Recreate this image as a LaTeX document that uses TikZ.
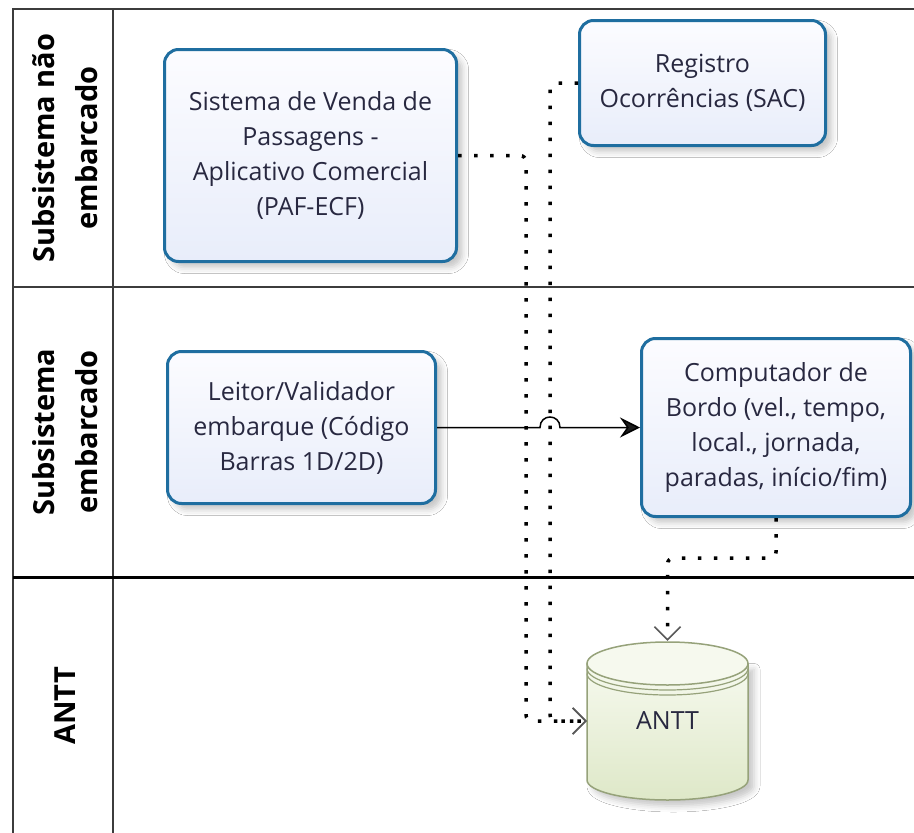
\documentclass[tikz,border=0pt]{standalone}
\usepackage{fontspec}
\setmainfont{Open Sans}
\usetikzlibrary{arrows.meta,shadows.blur,calc}
\definecolor{boxline}{RGB}{31,110,160}
\definecolor{boxtop}{RGB}{252,252,255}
\definecolor{boxbot}{RGB}{232,237,250}
\definecolor{txt}{RGB}{40,40,64}
\definecolor{cylline}{RGB}{150,162,122}
\definecolor{cyltop}{RGB}{246,249,238}
\definecolor{cylbot}{RGB}{222,232,200}
\definecolor{lanecol}{RGB}{60,60,60}
\newcommand\bxfont{\fontsize{25}{35}\selectfont}
\newcommand\hdfont{\fontsize{29}{43}\selectfont\bfseries}
\begin{document}
\begin{tikzpicture}[x=1pt,y=-1pt,
  proc/.style={draw=boxline, line width=3pt, rounded corners=14pt,
    top color=boxtop, bottom color=boxbot, align=center, text=txt,
    font=\bxfont, inner sep=0pt,
    blur shadow={shadow xshift=6pt, shadow yshift=-6pt, shadow blur radius=6pt, shadow opacity=22}},
  flow/.style={line width=3.5pt, dash pattern=on 3.5pt off 12.5pt, rounded corners=6pt,
    -{Straight Barb[length=13pt,width=26pt,line width=1.6pt,color=black!65]}},
  msg/.style={line width=1.5pt, -{Stealth[length=20pt,width=20pt,inset=7pt]}},
  lanehead/.style={rotate=90, align=center, font=\hdfont, text=black},
  lanethin/.style={draw=lanecol, line width=2pt},
  lanethick/.style={draw=black, line width=3pt}
]
\useasboundingbox (0,0) rectangle (914,833);
\fill[white] (0,0) rectangle (914,833);

% lanes
\draw[lanethin] (914,9) -- (13,9) -- (13,833);
\draw[lanethin] (113,9) -- (113,833);
\draw[lanethin] (13,287) -- (914,287);
\draw[lanethick] (13,577) -- (914,577);

\node[lanehead] (h1) at (65,148) {Subsistema não\\embarcado};
\node[lanehead] (h2) at (65,432) {Subsistema\\embarcado};
\node[lanehead] (h3) at (65,706) {ANTT};

% bend coordinates
\coordinate (b1) at (526,0);
\coordinate (b2) at (550,0);

% process boxes
\node[proc, minimum width=292pt, minimum height=212pt] (sist) at (310.5,155.5)
  {Sistema de Venda de\\Passagens -\\Aplicativo Comercial\\(PAF-ECF)};
\node[proc, minimum width=246pt, minimum height=125pt] (reg) at (702.5,83)
  {Registro\\Ocorrências (SAC)};
\node[proc, minimum width=268pt, minimum height=152pt] (leit) at (301.5,427.5)
  {Leitor/Validador\\embarque (Código\\Barras 1D/2D)};
\node[proc, minimum width=269pt, minimum height=178pt] (comp) at (776,427.5)
  {Computador de\\Bordo (vel., tempo,\\local., jornada,\\paradas, início/fim)};

% ANTT data store (cylinder)
\fill[top color=cyltop, bottom color=cylbot,
  blur shadow={shadow xshift=6pt, shadow yshift=-6pt, shadow blur radius=6pt, shadow opacity=22}]
  (587,663.5) -- (587,780) .. controls (587,791) and (623,800) .. (667.5,800)
  .. controls (712,800) and (748,791) .. (748,780) -- (748,663.5) -- cycle;
\draw[cylline, line width=1.5pt]
  (587,663.5) -- (587,780) .. controls (587,791) and (623,800) .. (667.5,800)
  .. controls (712,800) and (748,791) .. (748,780) -- (748,663.5);
\draw[cylline, line width=1.5pt, fill=cyltop] (667.5,663.5) ellipse [x radius=80.5, y radius=21.5];
\draw[cylline, line width=1.2pt] (587,668.5) .. controls (587,680.4) and (623,690) .. (667.5,690)
  .. controls (712,690) and (748,680.4) .. (748,668.5);
\draw[cylline, line width=1.2pt] (587,673.5) .. controls (587,685.4) and (623,695) .. (667.5,695)
  .. controls (712,695) and (748,685.4) .. (748,673.5);
\node[minimum width=161pt, minimum height=160pt, inner sep=0pt, font=\bxfont, text=txt] (antt) at (667.5,721) {\raisebox{-4pt}{ANTT}};

% connectors
\draw[flow] (sist.east) -- (sist.east -| b1) |- (antt.west);
\draw[flow] (reg.west) -- (reg.west -| b2) |- (antt.west);
\draw[flow] (comp.south) -- ++(0,40) -| (antt.north);
\draw[msg] (leit.east) -- ($(leit.east -| b2)+(-10,0)$)
  .. controls +(0,-14) and +(0,-14) .. ($(leit.east -| b2)+(10,0)$) -- (comp.west);
\end{tikzpicture}
\end{document}
